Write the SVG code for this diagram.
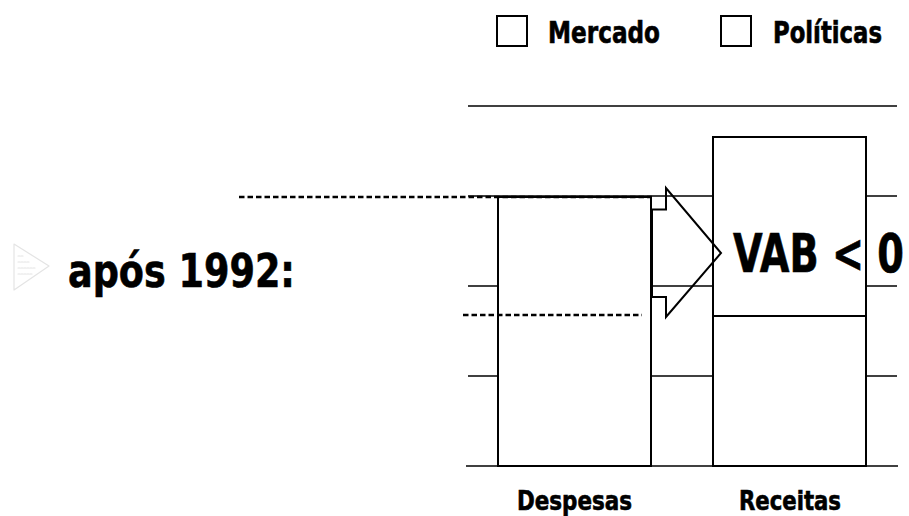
<svg xmlns="http://www.w3.org/2000/svg" width="909" height="516" viewBox="0 0 909 516">
<style>
.grid{stroke:#000;stroke-width:1.3;fill:none}
.box{stroke:#000;stroke-width:2;fill:#fff}
.dash{stroke:#000;stroke-width:2.4;stroke-dasharray:5.5 3;fill:none}
.t{font-family:"Liberation Sans Narrow","DejaVu Sans Condensed","Liberation Sans",sans-serif;font-weight:bold;fill:#000;stroke:#000;stroke-width:0.6}
.icon{stroke:#e4e4e4;stroke-width:1.2;fill:none;stroke-linejoin:round;stroke-linecap:round}
</style>
<rect width="909" height="516" fill="#fff"/>
<g id="icon">
<path class="icon" d="M14,244 L49,266 L14,290 Z"/>
<path class="icon" d="M18,256 h6 M18,262 h12 M18,268 h18 M18,274 h14" stroke-dasharray="2 1"/>
</g>
<g id="title">
<text class="t" x="68" y="287" font-size="46" textLength="227" lengthAdjust="spacingAndGlyphs">após 1992:</text>
</g>
<g id="legend">
<rect x="497" y="16" width="30" height="30" fill="#fff" stroke="#000" stroke-width="2"/>
<text class="t" x="548" y="42.5" font-size="30" textLength="112" lengthAdjust="spacingAndGlyphs">Mercado</text>
<rect x="721" y="16" width="30" height="30" fill="#fff" stroke="#000" stroke-width="2"/>
<text class="t" x="773" y="42.5" font-size="30" textLength="109" lengthAdjust="spacingAndGlyphs">Políticas</text>
</g>
<g id="gridlines">
<line class="grid" x1="468" y1="106" x2="897" y2="106"/>
<line class="grid" x1="468" y1="196" x2="897" y2="196"/>
<line class="grid" x1="468" y1="286" x2="897" y2="286"/>
<line class="grid" x1="468" y1="376" x2="897" y2="376"/>
<line class="grid" x1="466" y1="466" x2="898" y2="466"/>
</g>
<g id="despesas">
<rect class="box" x="498" y="197" width="153" height="269"/>
<text class="t" x="574.5" y="510" font-size="27" text-anchor="middle" textLength="115" lengthAdjust="spacingAndGlyphs">Despesas</text>
</g>
<g id="receitas">
<rect class="box" x="713" y="137" width="153" height="329"/>
<line x1="713" y1="316" x2="866" y2="316" stroke="#000" stroke-width="2"/>
<text class="t" x="790" y="510" font-size="27" text-anchor="middle" textLength="102" lengthAdjust="spacingAndGlyphs">Receitas</text>
</g>
<g id="connectors">
<line class="dash" x1="239" y1="197" x2="652" y2="197"/>
<line class="dash" x1="463" y1="315" x2="642" y2="315"/>
<polygon points="652,209.5 666,209.5 666,188 721,253 666,317 666,297 652,297" fill="none" stroke="#000" stroke-width="2"/>
</g>
<g id="vab">
<text class="t" x="733" y="272" font-size="53" textLength="171" lengthAdjust="spacingAndGlyphs">VAB &lt; 0</text>
</g>
</svg>
